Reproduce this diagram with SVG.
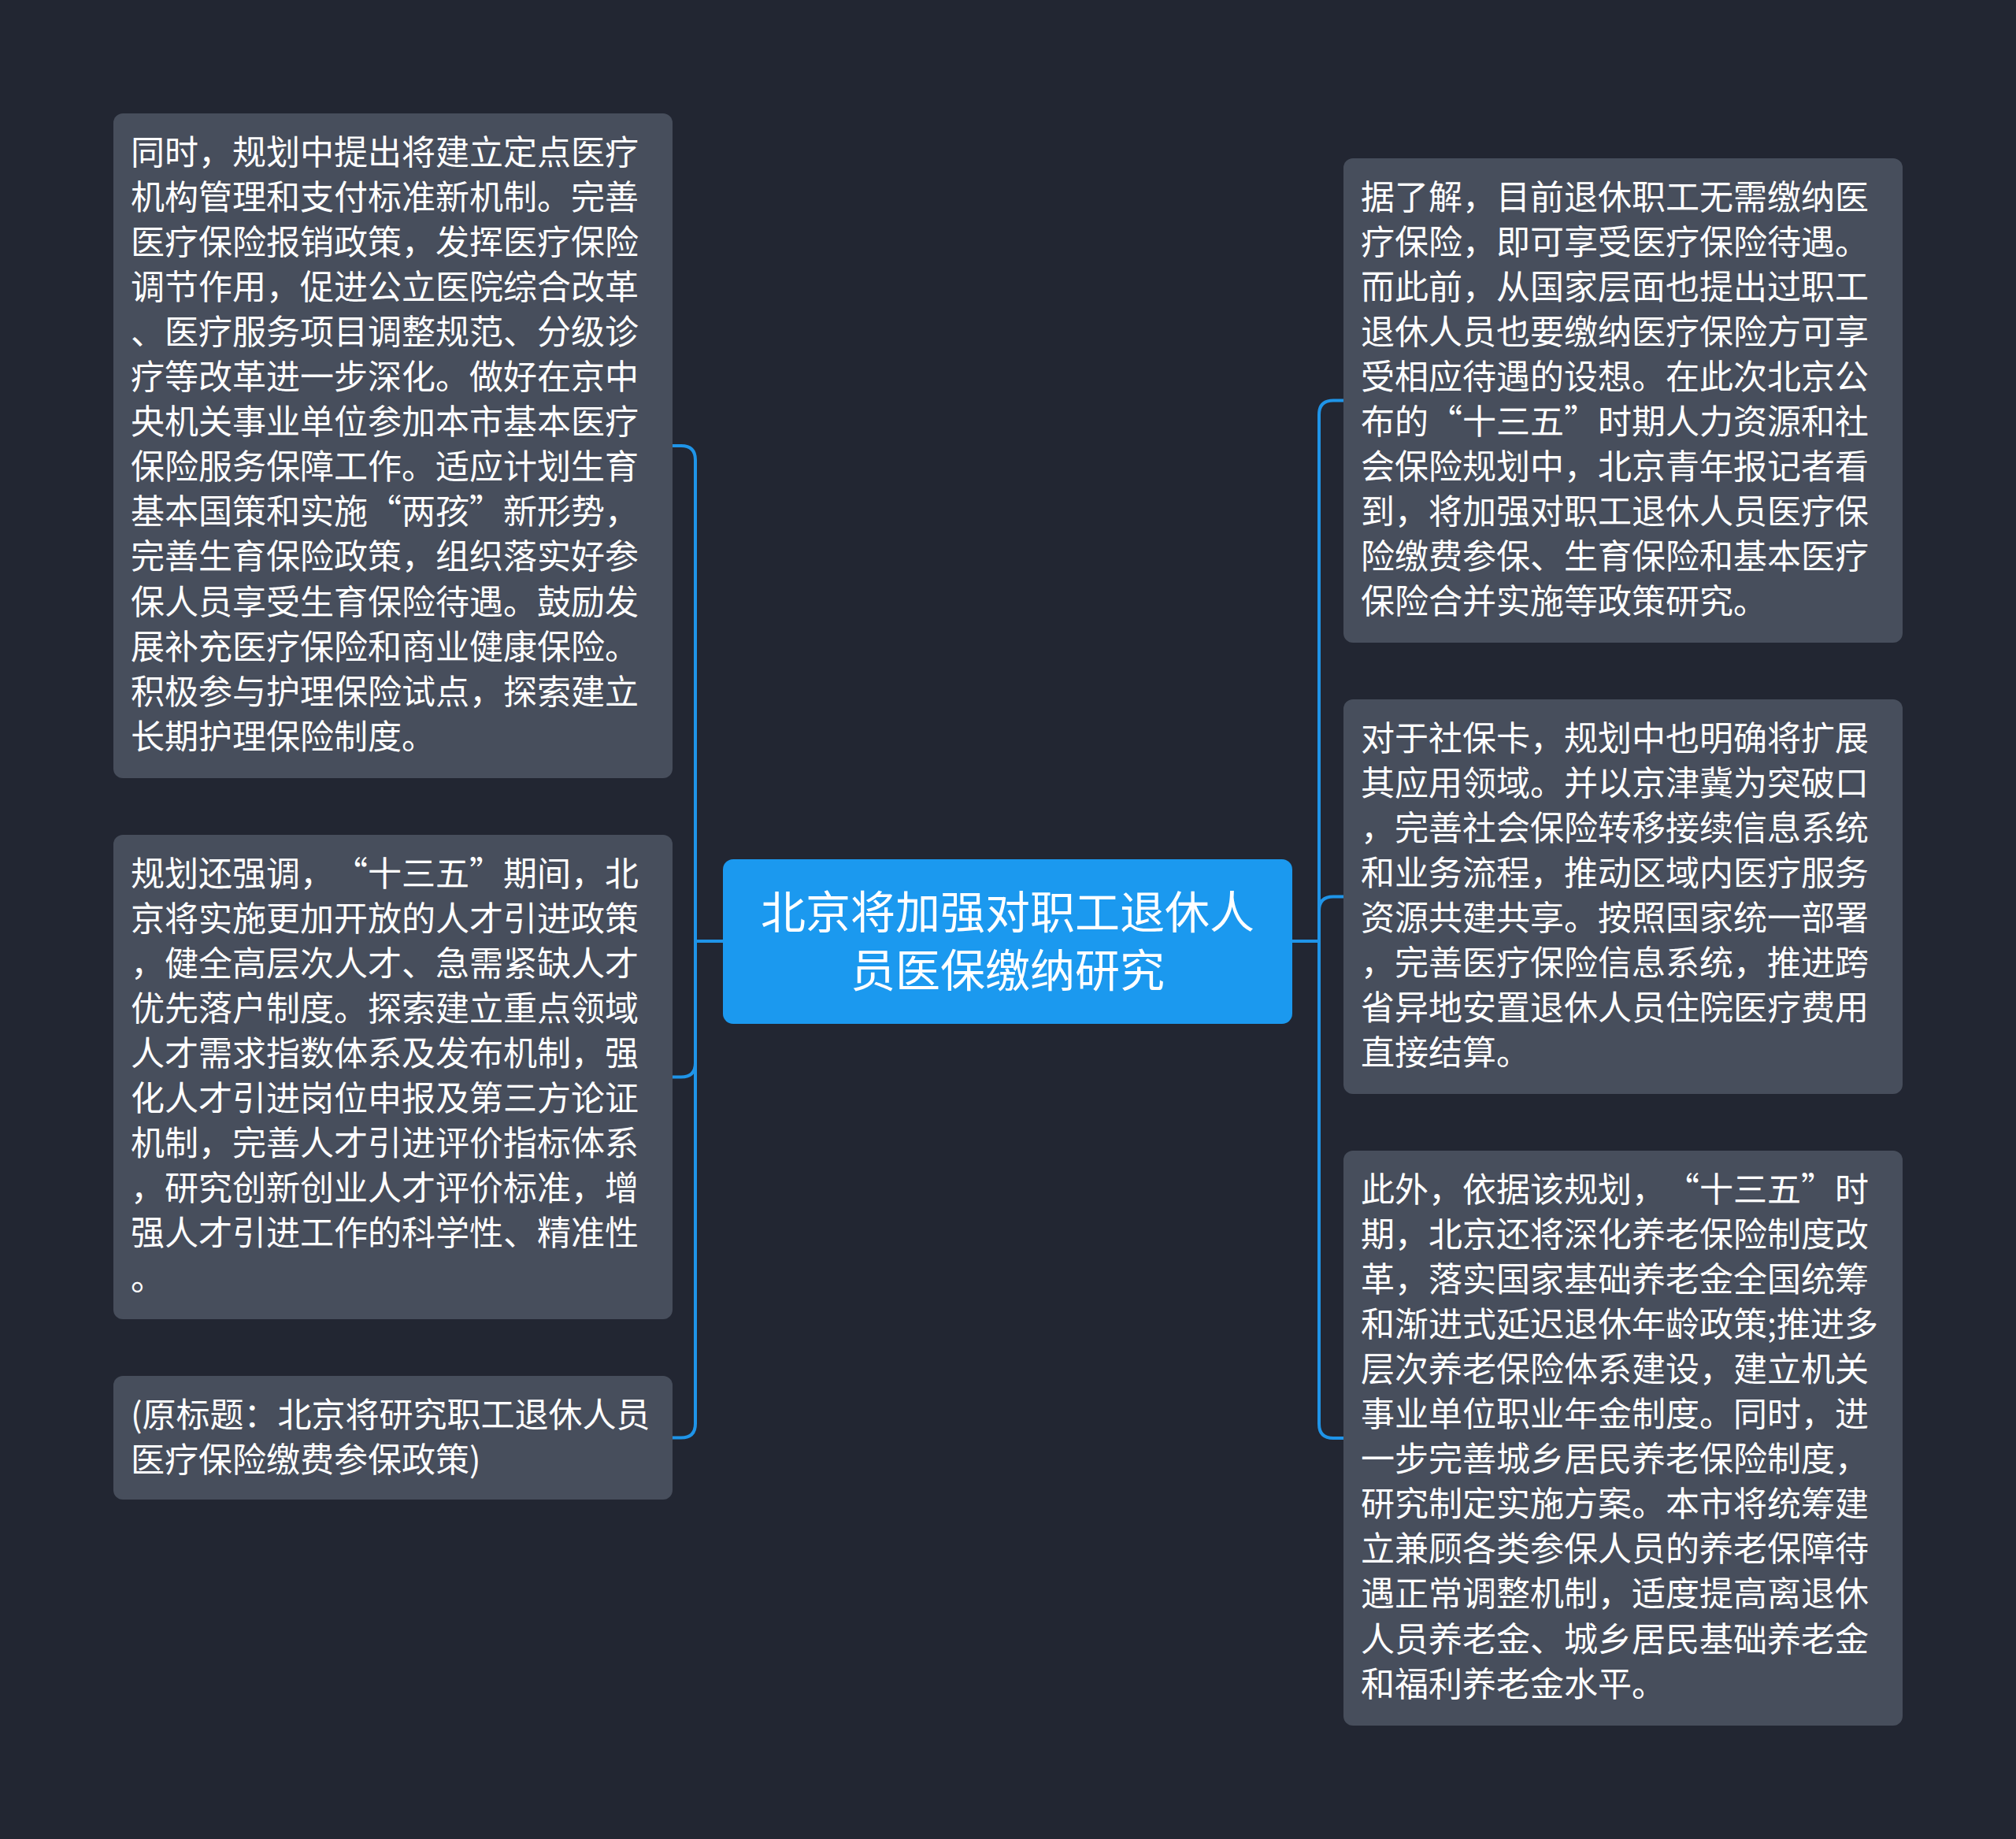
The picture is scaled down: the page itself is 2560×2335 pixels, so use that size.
<svg xmlns="http://www.w3.org/2000/svg" width="2560" height="2335" viewBox="0 0 2560 2335">
<style>
.bg{fill:#222632}
.node{fill:#474e5c}
.txt{font-family:"Noto Sans CJK SC","Noto Sans",sans-serif;font-size:43px;fill:#ffffff;text-spacing-trim:space-all}
.ctr{fill:#1b99ef}
.ctxt{font-family:"Noto Sans CJK SC","Noto Sans",sans-serif;font-size:57px;fill:#ffffff;text-anchor:middle}
.conn{fill:none;stroke:#1f94e8;stroke-width:4;stroke-linejoin:round}
</style>
<rect class="bg" x="0" y="0" width="2560" height="2335"/>
<g id="connectors">
<path class="conn" d="M918 1195 H883 V584 Q883 566 865 566 H854"/>
<path class="conn" d="M918 1195 H883 V1349.5 Q883 1367.5 865 1367.5 H854"/>
<path class="conn" d="M918 1195 H883 V1807.5 Q883 1825.5 865 1825.5 H854"/>
<path class="conn" d="M1641 1195 H1675 V526.5 Q1675 508.5 1693 508.5 H1706"/>
<path class="conn" d="M1641 1195 H1675 V1156.5 Q1675 1138.5 1693 1138.5 H1706"/>
<path class="conn" d="M1641 1195 H1675 V1808 Q1675 1826 1693 1826 H1706"/>
</g>
<g id="center">
<rect class="ctr" x="918" y="1091" width="723" height="209" rx="13"/>
<text class="ctxt"><tspan x="1279.5" y="1179">北京将加强对职工退休人</tspan><tspan x="1279.5" y="1253">员医保缴纳研究</tspan></text>
</g>
<g id="left1">
<rect class="node" x="144" y="144" width="710" height="844" rx="12"/>
<text class="txt">
<tspan x="166" y="208.5">同时，规划中提出将建立定点医疗</tspan>
<tspan x="166" y="265.6">机构管理和支付标准新机制。完善</tspan>
<tspan x="166" y="322.7">医疗保险报销政策，发挥医疗保险</tspan>
<tspan x="166" y="379.8">调节作用，促进公立医院综合改革</tspan>
<tspan x="166" y="436.9">、医疗服务项目调整规范、分级诊</tspan>
<tspan x="166" y="494">疗等改革进一步深化。做好在京中</tspan>
<tspan x="166" y="551.1">央机关事业单位参加本市基本医疗</tspan>
<tspan x="166" y="608.2">保险服务保障工作。适应计划生育</tspan>
<tspan x="166" y="665.3">基本国策和实施“两孩”新形势，</tspan>
<tspan x="166" y="722.4">完善生育保险政策，组织落实好参</tspan>
<tspan x="166" y="779.5">保人员享受生育保险待遇。鼓励发</tspan>
<tspan x="166" y="836.6">展补充医疗保险和商业健康保险。</tspan>
<tspan x="166" y="893.7">积极参与护理保险试点，探索建立</tspan>
<tspan x="166" y="950.8">长期护理保险制度。</tspan>
</text>
</g>
<g id="left2">
<rect class="node" x="144" y="1060" width="710" height="615" rx="12"/>
<text class="txt">
<tspan x="166" y="1124.5">规划还强调，“十三五”期间，北</tspan>
<tspan x="166" y="1181.6">京将实施更加开放的人才引进政策</tspan>
<tspan x="166" y="1238.7">，健全高层次人才、急需紧缺人才</tspan>
<tspan x="166" y="1295.8">优先落户制度。探索建立重点领域</tspan>
<tspan x="166" y="1352.9">人才需求指数体系及发布机制，强</tspan>
<tspan x="166" y="1410">化人才引进岗位申报及第三方论证</tspan>
<tspan x="166" y="1467.1">机制，完善人才引进评价指标体系</tspan>
<tspan x="166" y="1524.2">，研究创新创业人才评价标准，增</tspan>
<tspan x="166" y="1581.3">强人才引进工作的科学性、精准性</tspan>
<tspan x="166" y="1638.4">。</tspan>
</text>
</g>
<g id="left3">
<rect class="node" x="144" y="1747" width="710" height="157" rx="12"/>
<text class="txt">
<tspan x="166" y="1811.5">(原标题：北京将研究职工退休人员</tspan>
<tspan x="166" y="1868.6">医疗保险缴费参保政策)</tspan>
</text>
</g>
<g id="right1">
<rect class="node" x="1706" y="201" width="710" height="615" rx="12"/>
<text class="txt">
<tspan x="1728" y="265.5">据了解，目前退休职工无需缴纳医</tspan>
<tspan x="1728" y="322.6">疗保险，即可享受医疗保险待遇。</tspan>
<tspan x="1728" y="379.7">而此前，从国家层面也提出过职工</tspan>
<tspan x="1728" y="436.8">退休人员也要缴纳医疗保险方可享</tspan>
<tspan x="1728" y="493.9">受相应待遇的设想。在此次北京公</tspan>
<tspan x="1728" y="551">布的“十三五”时期人力资源和社</tspan>
<tspan x="1728" y="608.1">会保险规划中，北京青年报记者看</tspan>
<tspan x="1728" y="665.2">到，将加强对职工退休人员医疗保</tspan>
<tspan x="1728" y="722.3">险缴费参保、生育保险和基本医疗</tspan>
<tspan x="1728" y="779.4">保险合并实施等政策研究。</tspan>
</text>
</g>
<g id="right2">
<rect class="node" x="1706" y="888" width="710" height="501" rx="12"/>
<text class="txt">
<tspan x="1728" y="952.5">对于社保卡，规划中也明确将扩展</tspan>
<tspan x="1728" y="1009.6">其应用领域。并以京津冀为突破口</tspan>
<tspan x="1728" y="1066.7">，完善社会保险转移接续信息系统</tspan>
<tspan x="1728" y="1123.8">和业务流程，推动区域内医疗服务</tspan>
<tspan x="1728" y="1180.9">资源共建共享。按照国家统一部署</tspan>
<tspan x="1728" y="1238">，完善医疗保险信息系统，推进跨</tspan>
<tspan x="1728" y="1295.1">省异地安置退休人员住院医疗费用</tspan>
<tspan x="1728" y="1352.2">直接结算。</tspan>
</text>
</g>
<g id="right3">
<rect class="node" x="1706" y="1461" width="710" height="730" rx="12"/>
<text class="txt">
<tspan x="1728" y="1525.5">此外，依据该规划，“十三五”时</tspan>
<tspan x="1728" y="1582.6">期，北京还将深化养老保险制度改</tspan>
<tspan x="1728" y="1639.7">革，落实国家基础养老金全国统筹</tspan>
<tspan x="1728" y="1696.8">和渐进式延迟退休年龄政策;推进多</tspan>
<tspan x="1728" y="1753.9">层次养老保险体系建设，建立机关</tspan>
<tspan x="1728" y="1811">事业单位职业年金制度。同时，进</tspan>
<tspan x="1728" y="1868.1">一步完善城乡居民养老保险制度，</tspan>
<tspan x="1728" y="1925.2">研究制定实施方案。本市将统筹建</tspan>
<tspan x="1728" y="1982.3">立兼顾各类参保人员的养老保障待</tspan>
<tspan x="1728" y="2039.4">遇正常调整机制，适度提高离退休</tspan>
<tspan x="1728" y="2096.5">人员养老金、城乡居民基础养老金</tspan>
<tspan x="1728" y="2153.6">和福利养老金水平。</tspan>
</text>
</g>
</svg>
